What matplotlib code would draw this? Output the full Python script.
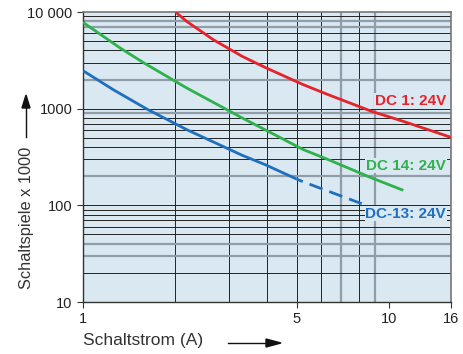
import numpy as np
import matplotlib.pyplot as plt

# values (x in A, y in Schaltspiele x 1000)
dc1_x = [2.015, 2.184, 2.669, 3.32, 3.94, 5.258, 6.347, 8.804, 11.17, 16]
dc1_y = [9905, 7996, 5170, 3474, 2674, 1771, 1395, 938, 739, 505]

dc14_x = [1.0, 1.322, 1.575, 2.184, 3.32, 3.94, 5.258, 6.347, 8.804, 11.17]
dc14_y = [7807, 4250, 3000, 1637, 801, 606, 377, 297, 192, 143]

dc13_x = [1.0, 1.256, 1.616, 2.184, 3.32, 3.94, 5.0]
dc13_y = [2471, 1572, 993, 607, 329, 264, 187]
dc13_ext_x = [5.0, 5.258, 6.347, 8.164]
dc13_ext_y = [187, 175, 140, 104]

x_ticks = [1, 5, 10, 16]
y_ticks = [10, 100, 1000, 10000]
y_ticklabels = ["10", "100", "1000", "10 000"]

gray_x = [7, 9]
gray_y = [30, 40, 200, 900, 2000, 7000, 8000]

RED = "#e8222b"
GREEN = "#2fb14b"
BLUE = "#1f6fc0"
BG = "#d9e8f1"

plt.rcParams["font.family"] = ["Liberation Sans", "DejaVu Sans"]

fig = plt.figure(figsize=(4.63, 3.54), dpi=100)
ax = fig.add_axes([83 / 463, 1 - 302 / 354, 368 / 463, 290 / 354])
ax.set_facecolor(BG)
ax.set_xscale("log")
ax.set_yscale("log")
ax.set_xlim(1, 16)
ax.set_ylim(10, 10000)

# grid: black minor lines, some grey ones like in the print
for dec in [1, 10]:
    for m in range(2, 10):
        v = dec * m
        if v < 16:
            c, lw = ("#8f9ea8", 1.6) if v in gray_x else ("#222222", 0.7)
            ax.axvline(v, color=c, lw=lw, zorder=1)
for dec in [10, 100, 1000]:
    for m in range(1, 10):
        v = dec * m
        c, lw = ("#8f9ea8", 1.6) if v in gray_y else ("#222222", 0.7)
        ax.axhline(v, color=c, lw=lw, zorder=1)

ax.plot(dc1_x, dc1_y, color=RED, lw=2.0, zorder=3, solid_capstyle="butt")
ax.plot(dc14_x, dc14_y, color=GREEN, lw=2.0, zorder=3, solid_capstyle="butt")
ax.plot(dc13_x, dc13_y, color=BLUE, lw=2.0, zorder=3, solid_capstyle="butt")
ax.plot(dc13_ext_x, dc13_ext_y, color=BLUE, lw=2.0, zorder=3,
        linestyle=(2.6, (5.0, 2.6)), dash_capstyle="butt")

lbl = dict(fontsize=11, fontweight="bold", ha="right", va="center", zorder=4,
           bbox=dict(facecolor=BG, edgecolor="none", pad=0.5))
ax.text(15.4, 1197, "DC 1: 24V", color=RED, **lbl)
ax.text(15.4, 258, "DC 14: 24V", color=GREEN, **lbl)
ax.text(15.4, 82, "DC-13: 24V", color=BLUE, **lbl)

ax.set_xticks(x_ticks)
ax.set_xticklabels([str(v) for v in x_ticks])
ax.set_yticks(y_ticks)
ax.set_yticklabels(y_ticklabels)
ax.xaxis.set_minor_locator(plt.NullLocator())
ax.yaxis.set_minor_locator(plt.NullLocator())
ax.tick_params(axis="both", labelsize=10.5, color="#333333", length=4, width=0.8,
               labelcolor="#222222")
ax.tick_params(axis="x", pad=3)

for side in ["top", "right"]:
    ax.spines[side].set_color("#777777")
    ax.spines[side].set_linewidth(1.2)
for side in ["left", "bottom"]:
    ax.spines[side].set_color("#333333")
    ax.spines[side].set_linewidth(1.0)

# axis titles with arrows
fig.text(27 / 463, 1 - 218 / 354, "Schaltspiele x 1000", rotation=90,
         ha="center", va="center", fontsize=11.8, color="#333333")
fig.text(83 / 463, 1 - 341 / 354, "Schaltstrom (A)", ha="left", va="center",
         fontsize=12.5, color="#333333")
fig.add_artist(plt.Line2D([26 / 463, 26 / 463], [1 - 137 / 354, 1 - 100 / 354],
                          color="#111111", lw=1.0))
fig.patches.append(plt.Polygon([[22 / 463, 1 - 108 / 354], [30 / 463, 1 - 108 / 354],
                                [26 / 463, 1 - 95 / 354]], closed=True,
                               color="#111111", transform=fig.transFigure, figure=fig))
fig.add_artist(plt.Line2D([228 / 463, 270 / 463], [1 - 343 / 354, 1 - 343 / 354],
                          color="#111111", lw=1.0))
fig.patches.append(plt.Polygon([[266 / 463, 1 - 339 / 354], [266 / 463, 1 - 347 / 354],
                                [281 / 463, 1 - 343 / 354]], closed=True,
                               color="#111111", transform=fig.transFigure, figure=fig))

fig.savefig("out.png", dpi=100)
